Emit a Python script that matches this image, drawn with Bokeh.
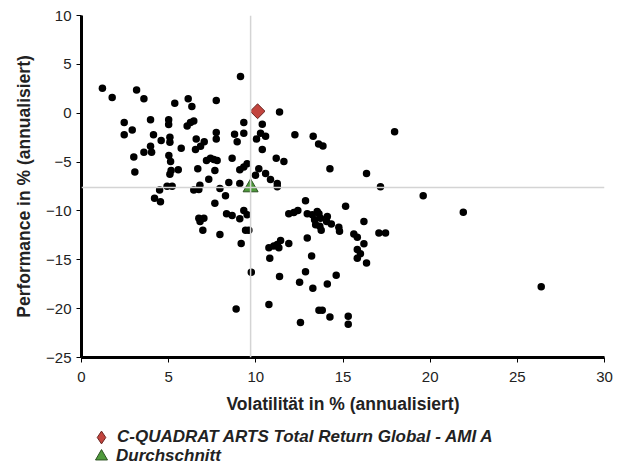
from bokeh.plotting import figure
from bokeh.layouts import column
from bokeh.models import Span, Legend, LegendItem, FixedTicker, ColumnDataSource
from bokeh.embed import file_html
from bokeh.resources import INLINE

# Peer group funds: volatility (%) and performance (%), annualised
peer_vol = [9.12, 1.2, 1.76, 3.16, 3.58, 5.35, 6.12, 6.33, 7.73, 2.45, 2.91, 2.45, 3.96, 5.0, 5.0,
            6.44, 6.25, 6.06, 4.13, 4.57, 5.07, 5.07, 6.58, 7.04, 6.83, 7.73, 7.73, 8.78, 8.93, 9.31,
            9.31, 3.96, 3.58, 4.02, 5.72, 6.54, 3.0, 5.01, 5.11, 7.17, 7.4, 7.59, 7.78, 8.64, 3.06,
            5.14, 5.55, 5.07, 6.67, 7.65, 9.08, 9.31, 9.5, 9.98, 7.3, 8.45, 9.08, 4.48, 4.91, 5.2,
            6.44, 6.73, 6.79, 7.94, 8.26, 4.19, 4.53, 7.65, 6.73, 7.02, 6.8, 6.96, 7.94, 8.32, 8.64,
            9.08, 9.31, 9.5, 9.41, 9.6, 9.16, 9.74, 8.87, 10.75, 12.51, 13.27, 14.1, 13.62, 13.81, 14.25,
            12.56, 15.3, 15.3, 10.84, 11.23, 11.23, 17.15, 19.6, 12.85, 15.15, 11.89, 12.18, 12.41, 12.95,
            13.24, 13.52, 13.62, 13.37, 13.71, 14.1, 14.06, 13.43, 13.67, 13.75, 14.33, 14.76, 14.8, 16.2,
            15.62, 15.82, 16.2, 15.82, 16.0, 15.82, 16.35, 17.06, 17.44, 10.75, 11.03, 11.23, 11.42, 11.32,
            11.89, 10.8, 12.95, 13.2, 11.36, 12.85, 14.61, 11.36, 10.37, 10.27, 10.56, 10.04, 12.24, 13.29,
            13.6, 13.85, 17.96, 10.37, 11.17, 11.61, 14.25, 16.35, 10.17, 10.56, 21.9, 26.37]
peer_perf = [3.76, 2.55, 1.6, 2.38, 1.47, 1.03, 1.47, 0.69, 1.3, -0.96, -1.73, -2.2, -0.66, -0.66, -1.16,
             -0.79, -0.96, -1.3, -2.2, -2.78, -2.47, -2.98, -2.64, -2.92, -3.38, -1.97, -2.64, -2.14, -2.92, -0.96,
             -2.04, -3.38, -3.99, -3.99, -3.59, -3.72, -4.47, -4.33, -4.94, -4.84, -4.6, -4.74, -4.84, -4.6, -6.01,
             -5.85, -5.78, -6.25, -5.68, -5.85, -5.78, -5.51, -5.17, -6.35, -6.76, -7.09, -7.2, -7.87, -7.47, -7.47,
             -7.87, -7.8, -7.37, -7.7, -8.44, -8.71, -9.05, -9.22, -10.74, -10.74, -11.07, -11.98, -12.42, -10.3, -10.46,
             -10.8, -9.96, -10.4, -11.98, -11.98, -13.33, -16.27, -20.04, -19.57, -17.31, -17.92, -17.48, -20.17, -20.17, -20.85,
             -21.43, -20.78, -21.59, -6.79, -7.2, -7.53, -7.53, -8.44, -8.95, -9.52, -10.3, -10.16, -9.96, -10.3,
             -10.4, -10.06, -10.3, -10.9, -10.74, -10.57, -11.07, -11.41, -11.58, -11.98, -11.34, -11.68, -12.08, -11.07,
             -12.35, -12.69, -13.37, -13.94, -14.38, -14.85, -15.32, -12.25, -12.25, -13.77, -13.6, -13.44, -13.03, -13.77,
             -13.33, -14.85, -12.76, -14.61, -16.7, -16.23, -16.57, 0.12, -1.13, -2.04, -2.37, -2.64, -2.2, -2.37,
             -3.15, -3.35, -1.9, -3.72, -4.6, -4.94, -5.68, -6.18, -5.68, -6.18, -10.13, -17.75]

fund_name = "C-QUADRAT ARTS Total Return Global - AMI A"
fund_vol = [10.1]
fund_perf = [0.2]

avg_name = "Durchschnitt"
avg_vol = [9.7]
avg_perf = [-7.6]

x_ticks = [0, 5, 10, 15, 20, 25, 30]
y_ticks = [-25, -20, -15, -10, -5, 0, 5, 10]
y_tick_labels = ["\u221225", "\u221220", "\u221215", "\u221210", "\u22125", "0", "5", "10"]

FONT = "Liberation Sans"
FUND_COLORS = dict(fill_color="#c2443e", line_color="#6a2622", line_width=1)
AVG_COLORS = dict(fill_color="#4f9a3c", line_color="#2c5222", line_width=1)

p = figure(width=625, height=416, output_backend="svg", toolbar_location=None,
           x_range=(0, 30), y_range=(-25, 10),
           min_border_left=81, min_border_right=21, min_border_top=15, min_border_bottom=54)
p.outline_line_color = None
p.grid.visible = False
p.background_fill_color = "white"
p.border_fill_color = "white"

for ax in (p.xaxis[0], p.yaxis[0]):
    ax.axis_line_width = 3
    ax.axis_line_color = "black"
    ax.major_tick_line_color = "black"
    ax.major_tick_line_width = 1
    ax.major_tick_in = 0
    ax.major_tick_out = 5
    ax.minor_tick_line_color = None
    ax.major_label_text_font = FONT
    ax.major_label_text_font_size = "15px"
    ax.major_label_text_color = "#222222"
    ax.axis_label_text_font = FONT
    ax.axis_label_text_font_size = "17.5px"
    ax.axis_label_text_font_style = "bold"
    ax.axis_label_text_color = "#222222"

p.xaxis.ticker = FixedTicker(ticks=x_ticks)
p.yaxis.ticker = FixedTicker(ticks=y_ticks)
p.yaxis.major_label_overrides = {t: l for t, l in zip(y_ticks, y_tick_labels)}
p.xaxis.axis_label = "Volatilität in % (annualisiert)"
p.yaxis.axis_label = "Performance in % (annualisiert)"
p.xaxis.major_label_standoff = 9
p.yaxis.major_label_standoff = 5
p.xaxis.axis_label_standoff = 9
p.yaxis.axis_label_standoff = 9

p.add_layout(Span(location=avg_vol[0], dimension="height", line_color="#d4d4d4", line_width=1.5))
p.add_layout(Span(location=avg_perf[0], dimension="width", line_color="#d4d4d4", line_width=1.5))

peer_src = ColumnDataSource(dict(x=peer_vol, y=peer_perf))
p.scatter("x", "y", source=peer_src, marker="circle", size=7.5, fill_color="black", line_color="black", line_width=0)
p.scatter(avg_vol, avg_perf, marker="triangle", size=15, **AVG_COLORS)
p.scatter(fund_vol, fund_perf, marker="square", angle=0.7854, size=10.5, **FUND_COLORS)

# Legend strip below the chart (its glyph renderers sit outside the strip's visible range)
leg = figure(width=625, height=50, output_backend="svg", toolbar_location=None,
             x_range=(-100, -99), y_range=(-100, -99), x_axis_type=None, y_axis_type=None,
             min_border=0)
leg.outline_line_color = None
leg.grid.visible = False
lr_fund = leg.scatter(fund_vol, fund_perf, marker="diamond", **FUND_COLORS)
lr_avg = leg.scatter(avg_vol, avg_perf, marker="triangle", **AVG_COLORS)

LEGEND_TEXT = dict(label_text_font=FONT, label_text_font_size="17px",
                   label_text_font_style="bold italic", label_text_color="#222222",
                   padding=0, margin=0, spacing=0, border_line_color=None,
                   background_fill_alpha=0)
legend_fund = Legend(items=[LegendItem(label=fund_name, renderers=[lr_fund])],
                     location=(4, 13), glyph_width=32, glyph_height=32, label_height=32,
                     label_standoff=-5, **LEGEND_TEXT)
legend_avg = Legend(items=[LegendItem(label=avg_name, renderers=[lr_avg])],
                    location=(5, -5), glyph_width=30, glyph_height=30, label_height=30,
                    label_standoff=-4, **LEGEND_TEXT)
leg.add_layout(legend_fund, "center")
leg.add_layout(legend_avg, "center")

layout = column(p, leg, spacing=0)
html = file_html(layout, INLINE)
open("out.html", "w").write(html)
